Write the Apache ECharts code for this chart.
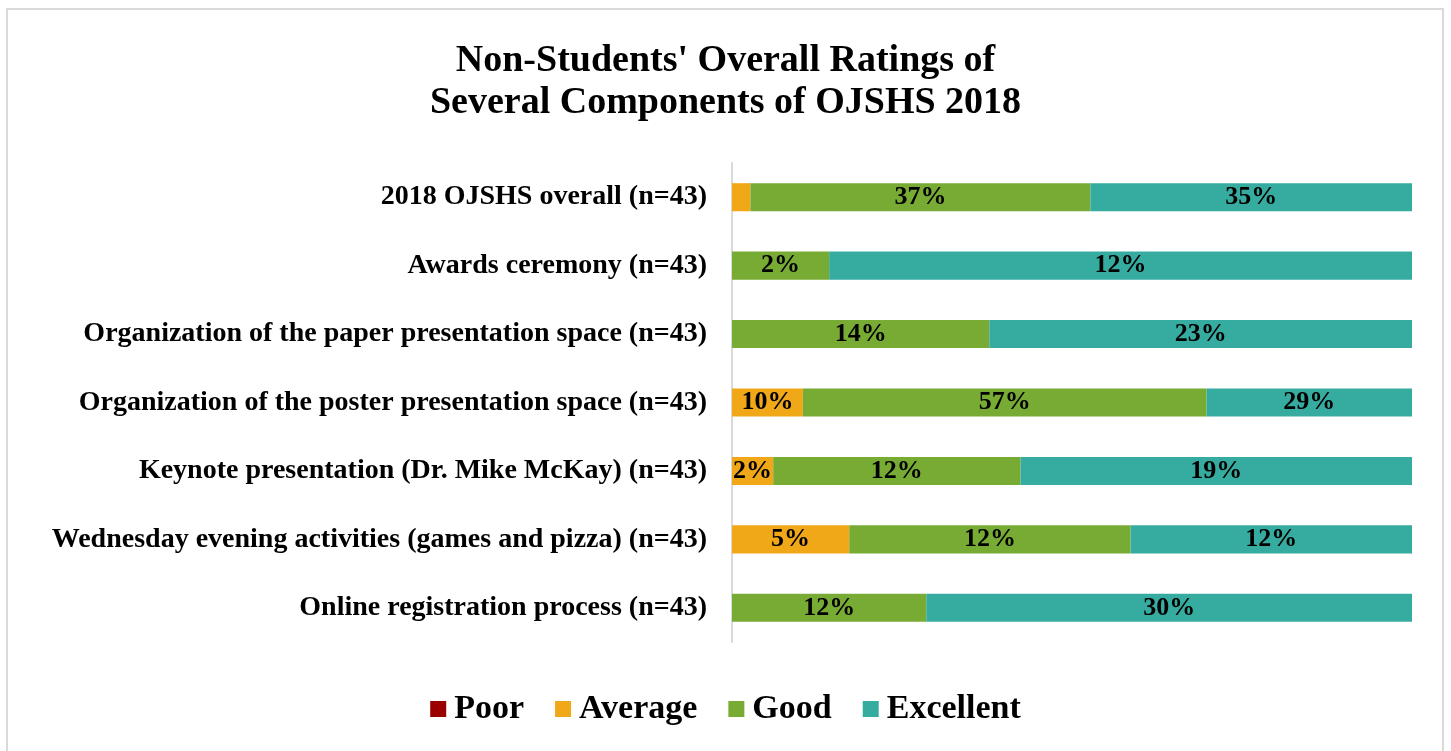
<!DOCTYPE html>
<html>
<head>
<meta charset="utf-8">
<script src="https://cdn.jsdelivr.net/npm/echarts@6/dist/echarts.min.js"></script>
<style>
html,body{margin:0;padding:0;background:#fff;}
#frame{position:absolute;left:6px;top:8px;width:1438px;height:760px;border:2px solid #D9D9D9;box-sizing:border-box;}
#chart{position:absolute;left:0;top:0;width:1451px;height:751px;}
</style>
</head>
<body>
<div id="frame"></div>
<div id="chart"></div>
<script>
const categories = [
  "2018 OJSHS overall (n=43)",
  "Awards ceremony (n=43)",
  "Organization of the paper presentation space (n=43)",
  "Organization of the poster presentation space (n=43)",
  "Keynote presentation (Dr. Mike McKay) (n=43)",
  "Wednesday evening activities (games and pizza) (n=43)",
  "Online registration process (n=43)"
];
const poor      = [0, 0, 0, 0, 0, 0, 0];
const average   = [2, 0, 0, 10, 2, 5, 0];
const good      = [37, 2, 14, 57, 12, 12, 12];
const excellent = [35, 12, 23, 29, 19, 12, 30];

const seriesNames = ["Poor", "Average", "Good", "Excellent"];
const seriesColors = ["#9B0000", "#F0A818", "#78AB34", "#36ACA0"];
const raw = [poor, average, good, excellent];
const totals = categories.map((c, i) => raw.reduce((s, arr) => s + arr[i], 0));

const font = "'Liberation Serif', 'Times New Roman', serif";

const series = raw.map((arr, k) => ({
  name: seriesNames[k],
  type: 'bar',
  stack: 'total',
  barWidth: '41%',
  itemStyle: { color: seriesColors[k] },
  label: {
    show: true,
    position: 'inside',
    color: '#000',
    fontFamily: font,
    fontWeight: 'bold',
    fontSize: 26,
    formatter: p => {
      const v = arr[p.dataIndex];
      return (v > 0 && p.value >= 4) ? v + '%' : '';
    }
  },
  data: arr.map((v, i) => totals[i] ? v / totals[i] * 100 : 0)
}));

const chart = echarts.init(document.getElementById('chart'));
chart.setOption({
  animation: false,
  title: {
    text: "Non-Students' Overall Ratings of\nSeveral Components of OJSHS 2018",
    left: 'center',
    top: 35,
    textStyle: { fontFamily: font, fontWeight: 'bold', fontSize: 38, lineHeight: 42, color: '#000' }
  },
  legend: {
    top: 687,
    left: 'center',
    itemWidth: 16,
    itemHeight: 16,
    itemGap: 31,
    icon: 'rect',
    textStyle: { fontFamily: font, fontWeight: 'bold', fontSize: 34, color: '#000', padding: [0, 0, 0, 3] },
    data: seriesNames
  },
  grid: { left: 732, right: 39, top: 163, bottom: 109, containLabel: false },
  xAxis: { type: 'value', min: 0, max: 100, show: false },
  yAxis: {
    type: 'category',
    inverse: true,
    data: categories,
    axisLine: { show: true, lineStyle: { color: '#D9D9D9', width: 2 } },
    axisTick: { show: false },
    axisLabel: { margin: 25, color: '#000', fontFamily: font, fontWeight: 'bold', fontSize: 28 }
  },
  series: series
});
</script>
</body>
</html>
